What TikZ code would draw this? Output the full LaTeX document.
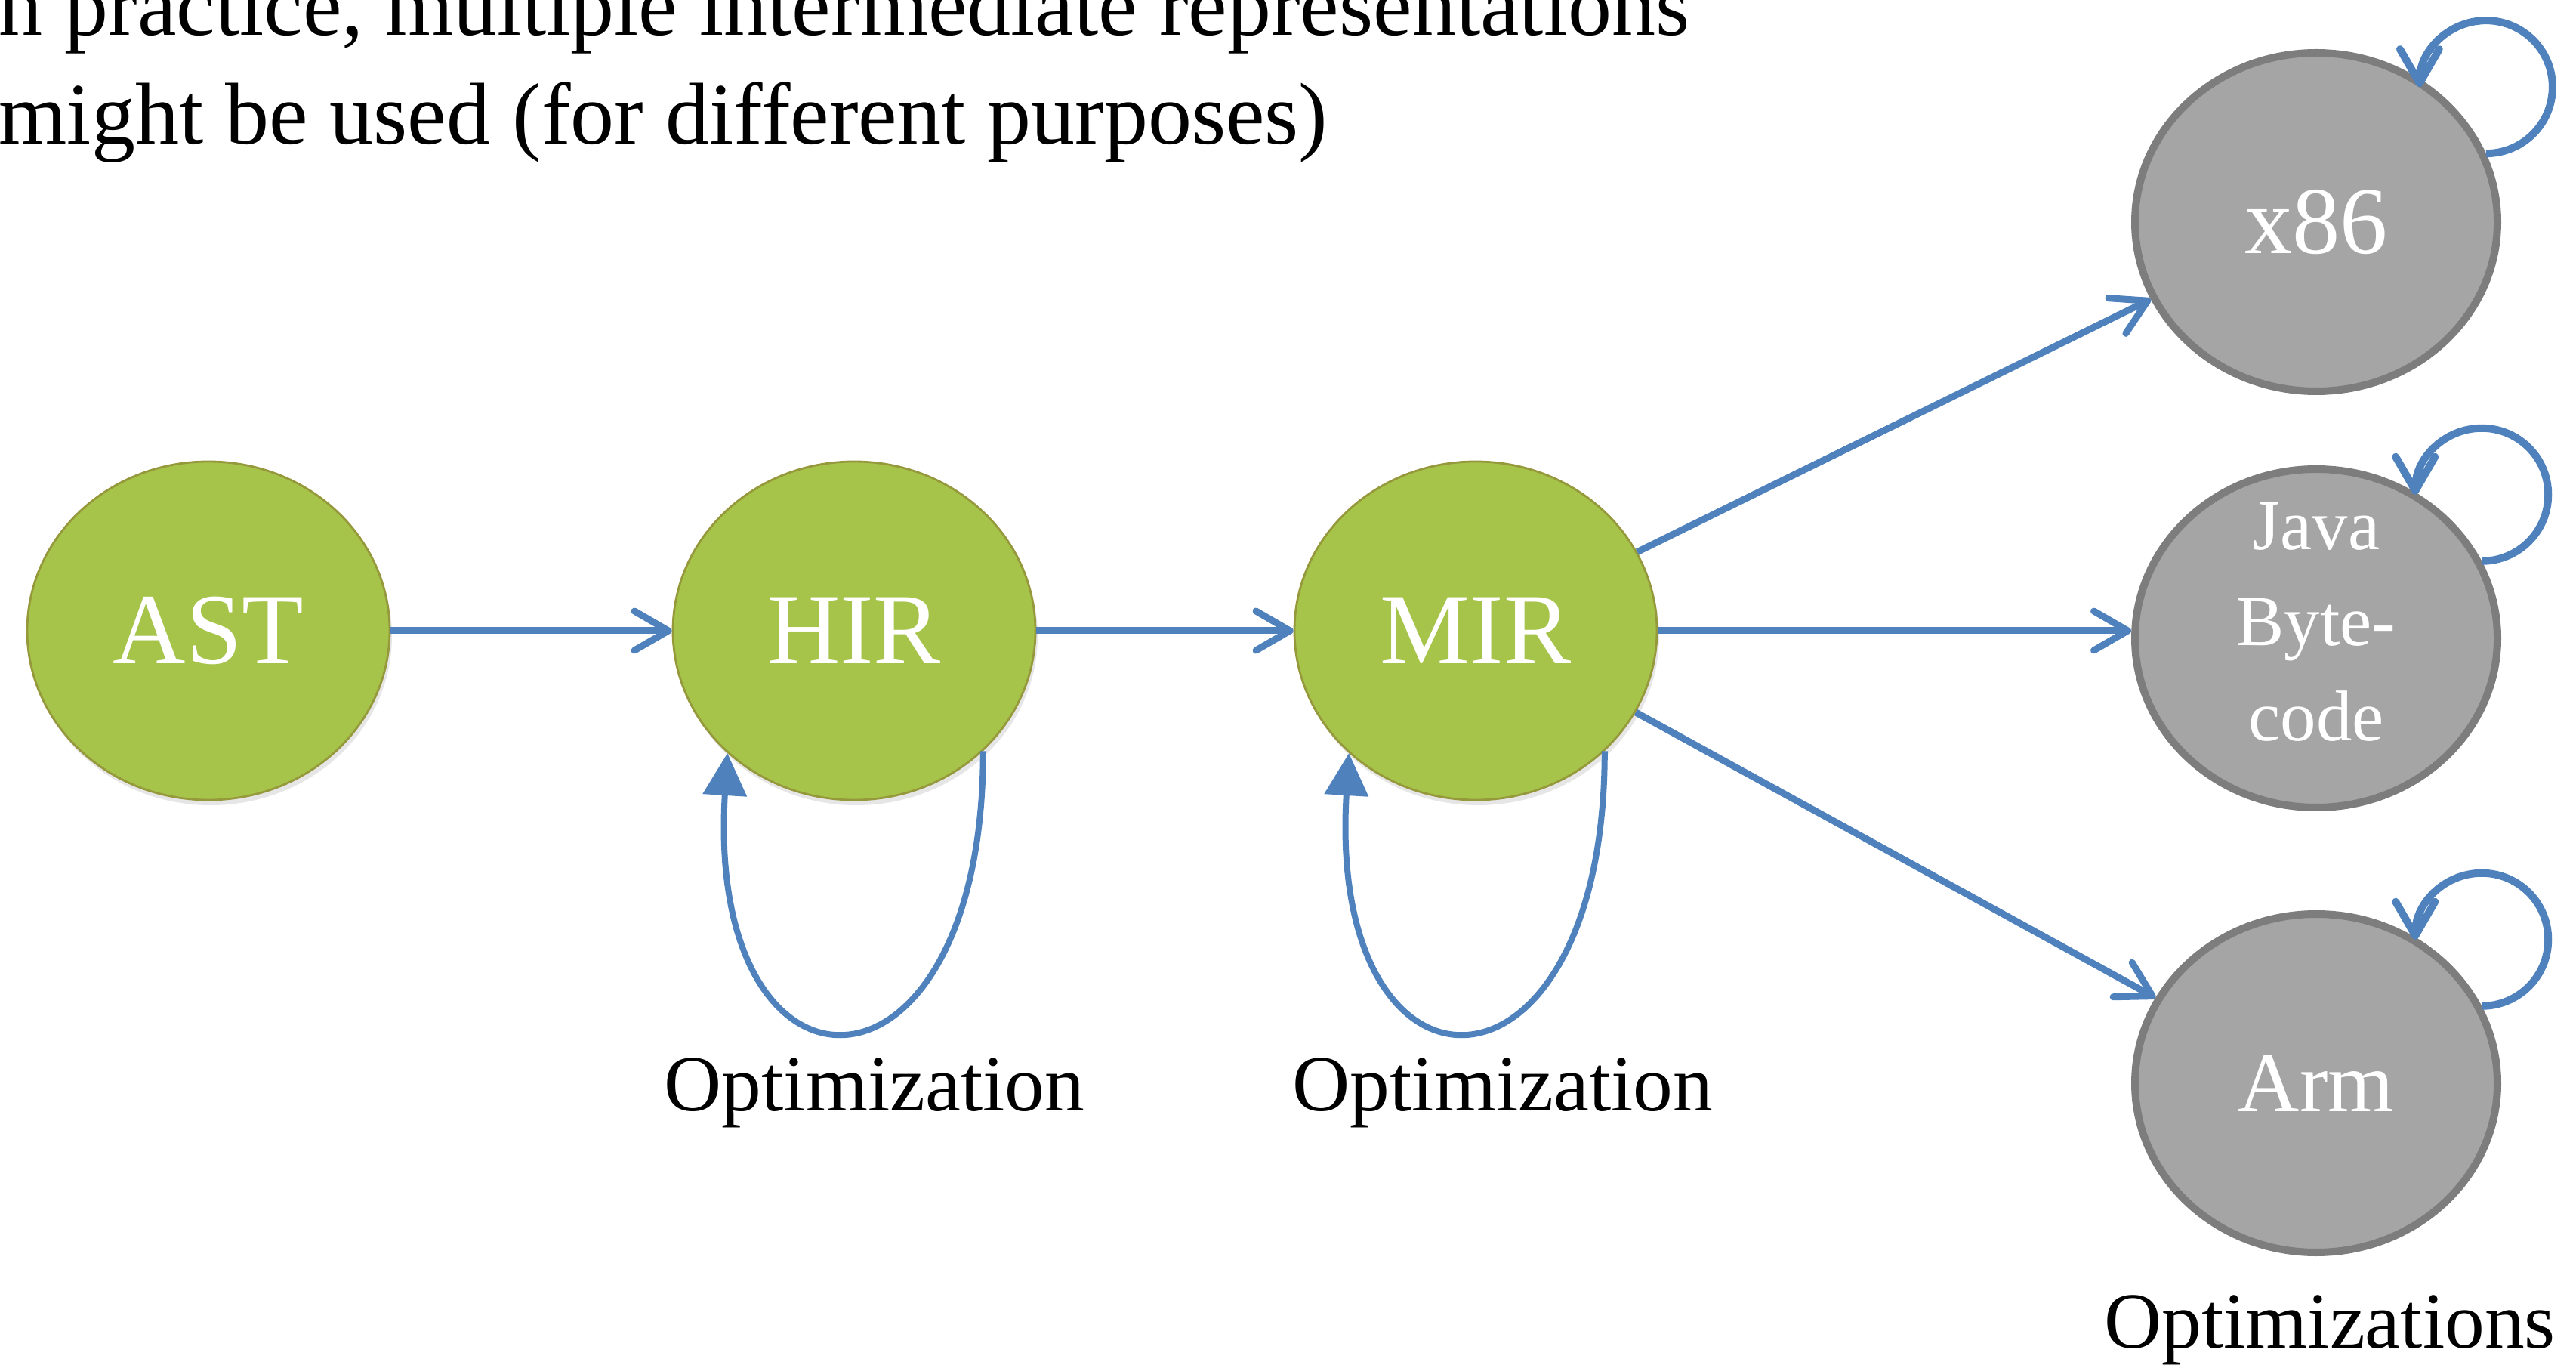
\documentclass[tikz,border=0pt]{standalone}
\usepackage{fontspec}
\setmainfont{Liberation Serif}
\usetikzlibrary{shapes.geometric, arrows.meta, positioning, shadows}
\definecolor{cIR}{RGB}{166, 196, 74}
\definecolor{bIR}{RGB}{150, 152, 60}
\definecolor{cTarget}{RGB}{165, 165, 165}
\definecolor{bTarget}{RGB}{125, 125, 125}
\definecolor{cEdge}{RGB}{79, 129, 189}

\begin{document}
\begin{tikzpicture}[
    ir/.style={
        ellipse,
        draw=bIR,
        line width=0.8pt,
        fill=cIR,
        minimum width=4.8cm,
        minimum height=4.48cm,
        inner sep=0pt,
        text=white,
        font=\fontsize{38}{40}\selectfont,
        drop shadow={shadow xshift=0.03cm, shadow yshift=-0.07cm, opacity=0.2}
    },
    target/.style={
        ellipse,
        draw=bTarget,
        line width=0.1cm,
        fill=cTarget,
        minimum width=4.8cm,
        minimum height=4.48cm,
        inner sep=0pt,
        text=white,
        align=center,
        font=\fontsize{32}{36}\selectfont
    },
    note/.style={font=\fontsize{30}{34}\selectfont, anchor=base, inner sep=0pt},
    arrow/.style={-{Straight Barb[length=0.45cm, width=0.52cm, round]}, line width=0.09cm, color=cEdge},
    optloop/.style={-{Triangle[length=0.56cm, width=0.57cm]}, line width=0.08cm, color=cEdge}
]
\useasboundingbox (0,0) rectangle (34.11,18.06);

\node[anchor=base west, align=left, inner sep=0pt, font=\fontsize{33}{41}\selectfont] (intro) at (-0.02, 16.15) {
    n practice, multiple intermediate representations\\
    might be used (for different purposes)
};

% Front-end / middle IRs
\node[ir] (ast) at (2.76, 9.71) {AST};
\node[ir] (hir) at (11.31, 9.71) {HIR};
\node[ir] (mir) at (19.54, 9.71) {MIR};

% Targets
\node[target, font=\fontsize{36}{40}\selectfont] (x86) at (30.67, 15.12) {x86};
\node[target, font=\fontsize{27}{36}\selectfont, text depth=0.44cm, inner ysep=-0.8cm] (jbc) at (30.67, 9.61) {Java\\Byte-\\code};
\node[target] (arm) at (30.67, 3.72) {Arm};

\node[note] (opthir) at (11.58, 3.36) {Optimization};
\node[note] (optmir) at (19.90, 3.36) {Optimization};
\node[note] (optarm) at (30.85, 0.22) {Optimizations};

\draw[arrow] (ast) -- (hir);
\draw[arrow] (hir) -- (mir);
\draw[arrow] (mir.26) -- (x86.205);
\draw[arrow] (mir.east) -- (mir.east -| jbc.west);
\draw[arrow] (mir.-27) -- (arm.152);

% Optimization loops
\draw[optloop] (hir.-43) .. controls +(0,-4.9) and +(-0.3,-4.9) .. (hir.-136);
\draw[optloop] (mir.-43) .. controls +(0,-4.9) and +(-0.3,-4.9) .. (mir.-136);

\draw[arrow, line width=0.1cm] (x86.22) arc[start angle=-90, end angle=180, radius=0.88];
\draw[arrow, line width=0.1cm] (jbc.25) arc[start angle=-90, end angle=180, radius=0.88];
\draw[arrow, line width=0.1cm] (arm.25) arc[start angle=-90, end angle=180, radius=0.88];

\end{tikzpicture}
\end{document}
